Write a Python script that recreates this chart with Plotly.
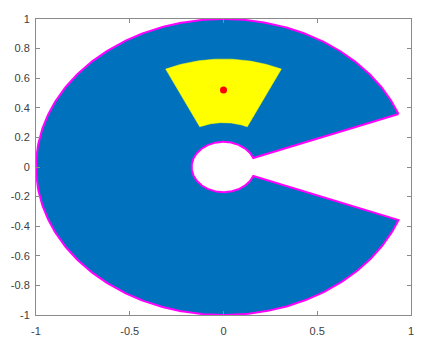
import numpy as np
import plotly.graph_objects as go

# Shape parameters
outer_radius = [1.0]
inner_radius = [0.17]
gap_half_angle_deg = [21.0]

sector_radii = [0.30, 0.73]          # yellow annular sector, inner / outer radius
sector_angles_deg = [65.0, 115.0]    # yellow sector, start / end angle

centroid_x = [0.0]
centroid_y = [0.52]

x_ticks = [-1, -0.5, 0, 0.5, 1]
x_tick_labels = ["-1", "-0.5", "0", "0.5", "1"]
y_ticks = [-1, -0.8, -0.6, -0.4, -0.2, 0, 0.2, 0.4, 0.6, 0.8, 1]
y_tick_labels = ["-1", "-0.8", "-0.6", "-0.4", "-0.2", "0", "0.2", "0.4", "0.6", "0.8", "1"]

# Blue annular pac-man outline
a0 = np.deg2rad(gap_half_angle_deg[0])
t_out = np.linspace(a0, 2 * np.pi - a0, 400)
t_in = t_out[::-1]
bx = np.concatenate([outer_radius[0] * np.cos(t_out), inner_radius[0] * np.cos(t_in), [outer_radius[0] * np.cos(a0)]])
by = np.concatenate([outer_radius[0] * np.sin(t_out), inner_radius[0] * np.sin(t_in), [outer_radius[0] * np.sin(a0)]])

# Yellow annular sector
s = np.deg2rad(np.linspace(sector_angles_deg[0], sector_angles_deg[1], 100))
yx = np.concatenate([sector_radii[1] * np.cos(s), sector_radii[0] * np.cos(s[::-1]), [sector_radii[1] * np.cos(s[0])]])
yy = np.concatenate([sector_radii[1] * np.sin(s), sector_radii[0] * np.sin(s[::-1]), [sector_radii[1] * np.sin(s[0])]])

fig = go.Figure()
fig.add_trace(go.Scatter(x=bx, y=by, mode="lines", fill="toself",
                         fillcolor="#0072BD", line=dict(color="#FF00FF", width=2),
                         hoverinfo="skip", showlegend=False))
fig.add_trace(go.Scatter(x=yx, y=yy, mode="lines", fill="toself",
                         fillcolor="#FFFF00", line=dict(color="#FFFF00", width=0.5),
                         hoverinfo="skip", showlegend=False))
fig.add_trace(go.Scatter(x=centroid_x, y=centroid_y, mode="markers",
                         marker=dict(color="#FF0000", size=7),
                         hoverinfo="skip", showlegend=False))

axis_common = dict(showgrid=False, zeroline=False, showline=True, mirror="ticks",
                   linecolor="#8a8a8a", linewidth=1, ticks="inside", ticklen=4,
                   tickcolor="#8a8a8a", automargin=False,
                   tickfont=dict(family="Liberation Sans, Arial", size=11, color="#404040"))

fig.update_layout(
    width=427, height=349,
    margin=dict(l=28, r=24, t=11, b=42),
    paper_bgcolor="white", plot_bgcolor="white",
    xaxis=dict(range=[-1, 1], tickvals=x_ticks, ticktext=x_tick_labels,
               ticklabelstandoff=6, **axis_common),
    yaxis=dict(range=[-1, 1], tickvals=y_ticks, ticktext=y_tick_labels,
               ticklabelstandoff=3, **axis_common),
)

fig.write_html("out.html")
